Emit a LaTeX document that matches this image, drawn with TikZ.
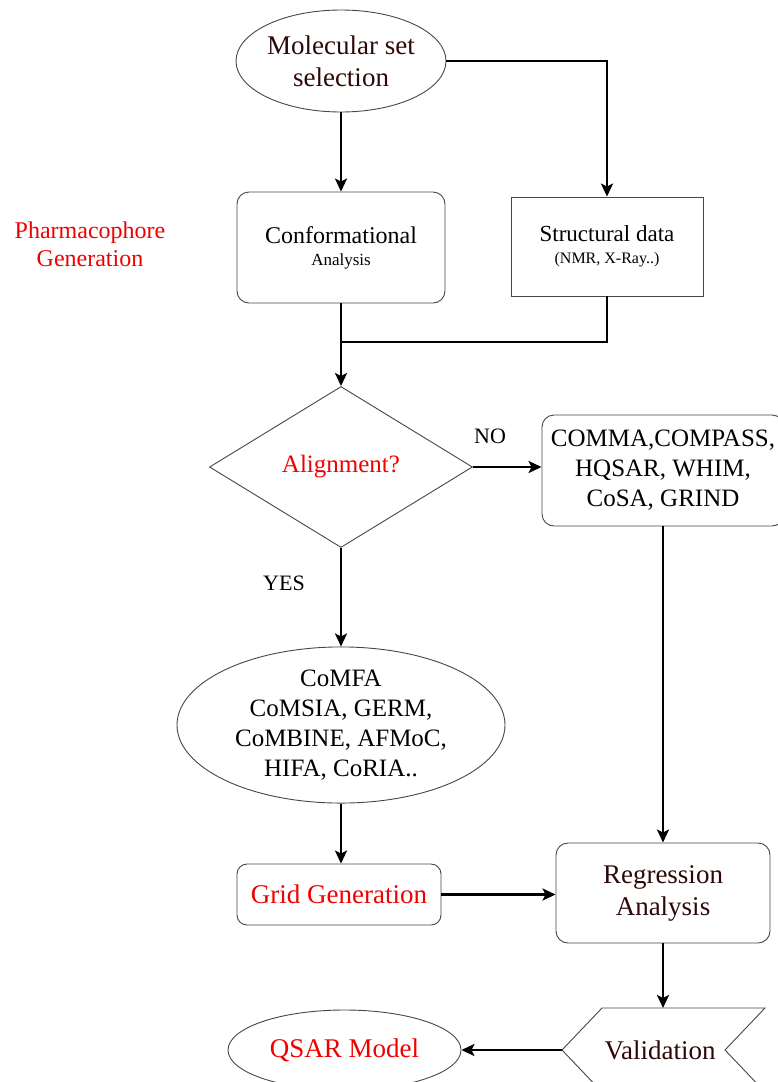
\documentclass[tikz,border=0pt]{standalone}
\usepackage{fontspec}
\setmainfont{Liberation Serif}
\usetikzlibrary{arrows.meta,shapes.geometric}
\definecolor{dk}{RGB}{45,8,8}
\definecolor{edgec}{RGB}{70,70,70}
\definecolor{rd}{RGB}{240,0,0}
\begin{document}
\begin{tikzpicture}[x=1pt,y=-1pt,
  shp/.style={draw=edgec,line width=0.9pt,align=center,inner sep=0pt},
  rbox/.style={shp,rectangle,rounded corners=12pt},
  sbox/.style={shp,rectangle},
  ell/.style={shp,ellipse},
  flow/.style={line width=2.8pt,-{Stealth[length=13pt,width=12pt,inset=3pt]}},
  plainline/.style={line width=2.8pt},
  lab/.style={font=\fontsize{22}{26}\selectfont}
]
\useasboundingbox (0,0) rectangle (778,1082);

% nodes
\node[ell,minimum width=210pt,minimum height=102pt,text=dk,font=\fontsize{27}{32}\selectfont]
  (mol) at (341,61) {Molecular set\\selection};
\node[rbox,minimum width=208pt,minimum height=111pt,font=\fontsize{17}{22}\selectfont]
  (conf) at (341,247.5) {\fontsize{24}{22}\selectfont Conformational\\Analysis};
\node[sbox,minimum width=192pt,minimum height=99pt,font=\fontsize{16}{22}\selectfont]
  (struct) at (607,246.5) {\fontsize{23}{22}\selectfont Structural data\\(NMR, X-Ray..)};
\node[text=rd,align=center,font=\fontsize{24}{28}\selectfont] (pharm) at (90,244) {Pharmacophore\\Generation};

\node[shp,diamond,minimum width=263pt,minimum height=161pt,text=rd,font=\fontsize{25}{30}\selectfont]
  (align) at (341,467) {Alignment?};
\node[lab] (no) at (490,436) {NO};
\node[rbox,minimum width=242pt,minimum height=111pt,font=\fontsize{25}{30}\selectfont]
  (comma) at (663,470.5) {COMMA,COMPASS,\\HQSAR, WHIM,\\CoSA, GRIND};
\node[lab] (yes) at (284,583) {YES};

\node[ell,minimum width=328pt,minimum height=150pt,font=\fontsize{25}{30}\selectfont]
  (comfa) at (341,725) {CoMFA\\CoMSIA, GERM,\\CoMBINE, AFMoC,\\HIFA, CoRIA..};
\node[rbox,rounded corners=10pt,minimum width=204pt,minimum height=61pt,text=rd,font=\fontsize{27}{32}\selectfont]
  (grid) at (339,894.5) {Grid Generation};
\node[rbox,minimum width=214pt,minimum height=100pt,text=dk,font=\fontsize{27}{32}\selectfont]
  (regr) at (663,893) {Regression\\Analysis};

% validation chevron
\draw[edgec,line width=0.9pt] (602,1008) -- (765,1008) -- (725,1050) -- (765,1092) -- (602,1092) -- (562,1050) -- cycle;
\coordinate (vtop) at (663,1008);
\coordinate (vtip) at (562,1050);
\node[text=dk,font=\fontsize{27}{32}\selectfont] (valid) at (660,1050) {Validation};
\node[ell,minimum width=233pt,minimum height=80pt,text=rd,font=\fontsize{27}{32}\selectfont]
  (qsar) at (344.5,1050) {QSAR Model};

% connectors
\draw[flow] (mol) -- (conf);
\draw[flow] (mol.east) -| (struct.north);
\coordinate (join) at (341,342);
\draw[plainline] (conf.south) -- (join);
\draw[plainline] (struct.south) |- (join);
\draw[flow] (join) -- (align.north);
\draw[flow] (align.east) -- (align.east -| comma.west);
\draw[flow] (comma.south) -- (regr.north);
\draw[flow] (align.south) -- (comfa.north);
\draw[flow] (comfa.south) -- (comfa.south |- grid.north);
\draw[flow] (grid.east) -- (grid.east -| regr.west);
\draw[flow] (regr.south) -- (vtop);
\draw[flow] (vtip) -- (qsar.east);
\end{tikzpicture}
\end{document}
